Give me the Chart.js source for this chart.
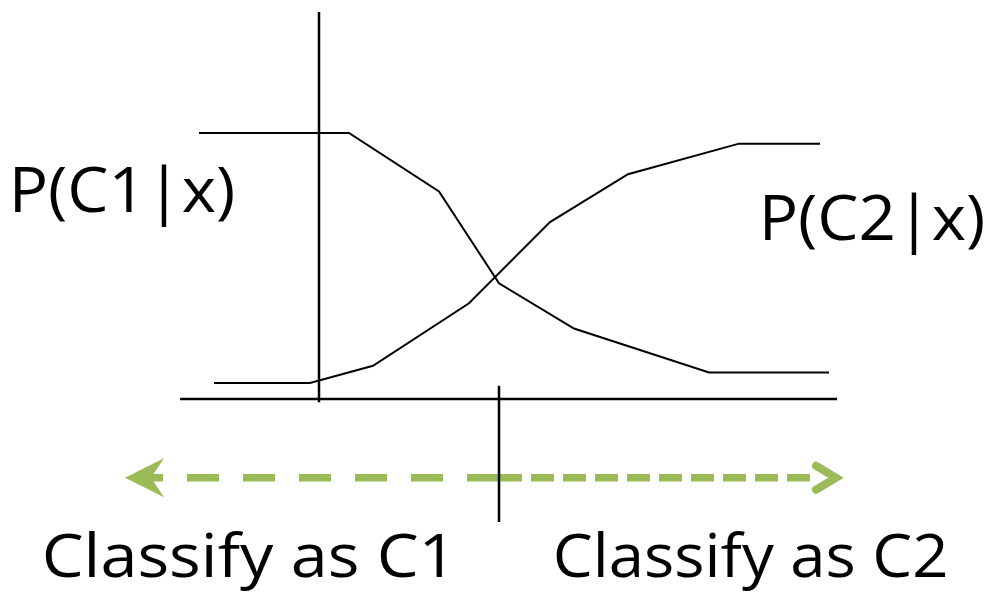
<!DOCTYPE html>
<html>
<head>
<meta charset="utf-8">
<script src="https://cdn.jsdelivr.net/npm/chart.js@4/dist/chart.umd.min.js"></script>
<style>
  html, body { margin: 0; padding: 0; background: #fff; }
  #wrap { width: 989px; height: 596px; }
</style>
</head>
<body>
<div id="wrap"><canvas id="post-chart" width="989" height="596"></canvas></div>
<script>
// Posterior curves (x in arbitrary units, 0 = decision boundary; y = probability)
const c1X = [-10, -5, -2, 0, 2.5, 7, 11];
const c1Y = [1, 1, 0.78, 0.435, 0.265, 0.1, 0.1];
const c2X = [-9.5, -6.3, -4.2, -1, 1.7, 4.3, 8, 10.7];
const c2Y = [0.06, 0.06, 0.125, 0.36, 0.665, 0.845, 0.96, 0.96];

// Axes and boundary marker
const axisX = [-10.63, 11.27];
const axisY = [1.455, -0.012];
const axisYPos = -6;
const boundaryX = 0;
const boundaryY = [0.05, -0.462];

// Decision arrow (left part: C1, right part: C2)
const arrowY = -0.296;
const arrowLeft = [0, -11.6];
const arrowRight = [0, 10.4];

// Text
const curveLabels = ['P(C1|x)', 'P(C2|x)'];
const classLabels = ['Classify as C1', 'Classify as C2'];

const GREEN = '#9bbb59';

function pts(xs, ys) {
    return xs.map((x, i) => ({ x: x, y: ys[i] }));
}

function lineSet(data, extra) {
    return Object.assign({
        data: data,
        borderColor: '#000',
        borderWidth: 2,
        pointRadius: 0,
        tension: 0,
        fill: false,
    }, extra || {});
}

// text drawn so its ink spans roughly the given width
function fitText(ctx, text, x, y, width) {
    const m = ctx.measureText(text);
    const ink = m.actualBoundingBoxLeft + m.actualBoundingBoxRight;
    const k = width / ink;
    ctx.save();
    ctx.translate(x, y);
    ctx.scale(k, 1);
    ctx.fillText(text, m.actualBoundingBoxLeft, 0);
    ctx.restore();
}

// Draws arrow heads and text labels
const decorations = {
    id: 'decorations',
    afterDatasetsDraw(chart) {
        const ctx = chart.ctx;
        const xs = chart.scales.x;
        const ys = chart.scales.y;
        const ay = ys.getPixelForValue(arrowY);

        // left: filled stealth head
        const lx = xs.getPixelForValue(arrowLeft[1]);
        ctx.save();
        ctx.fillStyle = GREEN;
        ctx.beginPath();
        ctx.moveTo(lx - 26, ay);
        ctx.lineTo(lx + 13, ay - 19.5);
        ctx.lineTo(lx, ay);
        ctx.lineTo(lx + 13, ay + 19.5);
        ctx.closePath();
        ctx.fill();

        // right: open chevron
        const rx = xs.getPixelForValue(arrowRight[1]);
        ctx.strokeStyle = GREEN;
        ctx.lineWidth = 8;
        ctx.lineCap = 'round';
        ctx.lineJoin = 'miter';
        ctx.beginPath();
        ctx.moveTo(rx + 5, ay - 12);
        ctx.lineTo(rx + 25, ay);
        ctx.lineTo(rx + 5, ay + 12);
        ctx.stroke();

        // labels
        ctx.fillStyle = '#000';
        ctx.textAlign = 'left';
        ctx.textBaseline = 'alphabetic';
        ctx.font = '62px "Open Sans"';
        fitText(ctx, curveLabels[0], 15, 212, 218);
        fitText(ctx, curveLabels[1], 765, 240, 218);
        ctx.font = '60px "Open Sans"';
        fitText(ctx, classLabels[0], 45, 577, 398);
        fitText(ctx, classLabels[1], 556, 577, 390);
        ctx.restore();
    }
};

const chart = new Chart(document.getElementById('post-chart'), {
    type: 'line',
    data: {
        datasets: [
            lineSet(pts(c1X, c1Y)),
            lineSet(pts(c2X, c2Y)),
            lineSet(pts(axisX, [0, 0]), { borderWidth: 2.5 }),
            lineSet(pts([axisYPos, axisYPos], axisY), { borderWidth: 2.5 }),
            lineSet(pts([boundaryX, boundaryX], boundaryY), { borderWidth: 2.5 }),
            lineSet(pts(arrowLeft, [arrowY, arrowY]), {
                borderColor: GREEN, borderWidth: 7.5, borderDash: [32, 24], borderCapStyle: 'butt'
            }),
            lineSet(pts(arrowRight, [arrowY, arrowY]), {
                borderColor: GREEN, borderWidth: 7.5, borderDash: [23, 9], borderCapStyle: 'butt'
            }),
        ]
    },
    options: {
        responsive: false,
        animation: false,
        devicePixelRatio: 1,
        layout: { padding: 0 },
        plugins: {
            legend: { display: false },
            tooltip: { enabled: false },
        },
        scales: {
            x: { type: 'linear', display: false, min: -16.633, max: 16.333 },
            y: { type: 'linear', display: false, min: -0.7406, max: 1.5 },
        }
    },
    plugins: [decorations]
});
</script>
</body>
</html>
